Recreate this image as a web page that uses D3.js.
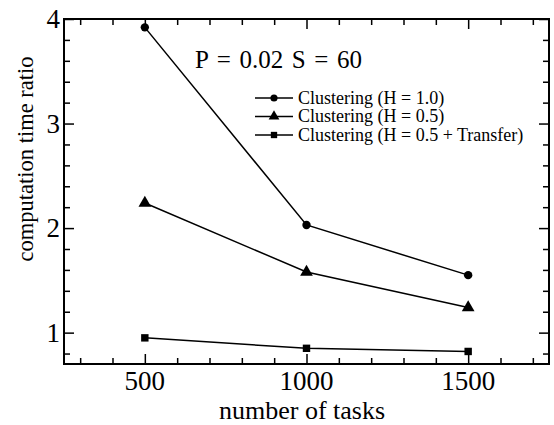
<!DOCTYPE html>
<html>
<head>
<meta charset="utf-8">
<script src="https://cdn.jsdelivr.net/npm/d3@7"></script>
<style>
  html, body { margin: 0; padding: 0; background: #fff; }
</style>
</head>
<body>
<svg id="chart" width="554" height="425"></svg>
<script>
// Number of tasks on the x axis
const tasks = [500, 1000, 1500];

// Computation time ratio per clustering variant
const seriesNames = [
  "Clustering (H = 1.0)",
  "Clustering (H = 0.5)",
  "Clustering (H = 0.5 + Transfer)"
];
const clusteringH10 = [3.92, 2.03, 1.55];
const clusteringH05 = [2.24, 1.58, 1.24];
const clusteringH05Transfer = [0.95, 0.85, 0.82];
const seriesValues = [clusteringH10, clusteringH05, clusteringH05Transfer];
const seriesSymbols = [d3.symbolCircle, d3.symbolTriangle, d3.symbolSquare];

// Tick labels
const xTickValues = [500, 1000, 1500];
const yTickValues = [1, 2, 3, 4];
const xMinorTicks = d3.range(300, 1800, 100).filter(v => v % 500 !== 0);
const yMinorTicks = d3.range(0.8, 4.0, 0.2).filter(v => Math.abs(v - Math.round(v)) > 1e-6);

const annotation = "P = 0.02 S = 60";

const FONT = '"Liberation Serif"';

const svg = d3.select("#chart");
const margin = { left: 64, right: 5, top: 19, bottom: 61 };
const W = 554, H = 425;

const x = d3.scaleLinear().domain([250, 1750]).range([margin.left, W - margin.right]);
const y = d3.scaleLinear().domain([0.7, 4]).range([H - margin.bottom, margin.top]);

const x0 = x.range()[0], x1 = x.range()[1];
const y0 = y.range()[0], y1 = y.range()[1];

const majorLen = 10, minorLen = 6;

// Inward ticks on all four sides
function drawAxis(axis, ticks, len) {
  const g = svg.append("g");
  g.call(axis.tickValues(ticks).tickSize(len).tickFormat(""));
  g.select(".domain").remove();
  g.selectAll(".tick line").attr("stroke", "#000").attr("stroke-width", 1.5);
  return g;
}
// bottom (ticks pointing up)
drawAxis(d3.axisTop(x), xTickValues, majorLen).attr("transform", `translate(0,${y0})`);
drawAxis(d3.axisTop(x), xMinorTicks, minorLen).attr("transform", `translate(0,${y0})`);
// top (ticks pointing down)
drawAxis(d3.axisBottom(x), xTickValues, majorLen).attr("transform", `translate(0,${y1})`);
drawAxis(d3.axisBottom(x), xMinorTicks, minorLen).attr("transform", `translate(0,${y1})`);
// left (ticks pointing right)
drawAxis(d3.axisRight(y), yTickValues, majorLen).attr("transform", `translate(${x0},0)`);
drawAxis(d3.axisRight(y), yMinorTicks, minorLen).attr("transform", `translate(${x0},0)`);
// right (ticks pointing left)
drawAxis(d3.axisLeft(y), yTickValues, majorLen).attr("transform", `translate(${x1},0)`);
drawAxis(d3.axisLeft(y), yMinorTicks, minorLen).attr("transform", `translate(${x1},0)`);

// Frame
svg.append("rect")
  .attr("x", x0).attr("y", y1)
  .attr("width", x1 - x0).attr("height", y0 - y1)
  .attr("fill", "none").attr("stroke", "#000").attr("stroke-width", 2);

// Tick labels
svg.append("g").selectAll("text").data(xTickValues).join("text")
  .attr("x", d => x(d)).attr("y", y0 + 26)
  .attr("text-anchor", "middle")
  .style("font-family", FONT).style("font-size", "27px")
  .text(d => d);
svg.append("g").selectAll("text").data(yTickValues).join("text")
  .attr("x", x0 - 4).attr("y", d => y(d) + 9)
  .attr("text-anchor", "end")
  .style("font-family", FONT).style("font-size", "27px")
  .text(d => d);

// Axis titles
svg.append("text")
  .attr("x", 302).attr("y", 419)
  .attr("text-anchor", "middle")
  .style("font-family", FONT).style("font-size", "26px")
  .text("number of tasks");
svg.append("text")
  .attr("transform", `translate(33,${159}) rotate(-90)`)
  .attr("text-anchor", "middle")
  .style("font-family", FONT).style("font-size", "22.5px")
  .text("computation time ratio");

// Series lines and markers
const line = d3.line().x((d, i) => x(tasks[i])).y(d => y(d));
seriesValues.forEach((vals, s) => {
  svg.append("path")
    .datum(vals)
    .attr("d", line)
    .attr("fill", "none").attr("stroke", "#000").attr("stroke-width", 1.5);
  const sym = d3.symbol().type(seriesSymbols[s]).size(s === 1 ? 70 : 55);
  svg.append("g").selectAll("path").data(vals).join("path")
    .attr("transform", (d, i) => `translate(${x(tasks[i])},${y(d)})`)
    .attr("d", sym)
    .attr("fill", "#000");
});

// Annotation
svg.append("text")
  .attr("x", 195).attr("y", 68)
  .style("font-family", FONT).style("font-size", "25px")
  .style("word-spacing", "2.4px")
  .text(annotation);

// Legend
const legend = svg.append("g");
seriesNames.forEach((name, s) => {
  const cy = 98 + s * 18.5;
  legend.append("line")
    .attr("x1", 255).attr("x2", 293).attr("y1", cy).attr("y2", cy)
    .attr("stroke", "#000").attr("stroke-width", 1.5);
  legend.append("path")
    .attr("transform", `translate(274,${cy})`)
    .attr("d", d3.symbol().type(seriesSymbols[s]).size(s === 1 ? 50 : 40))
    .attr("fill", "#000");
  legend.append("text")
    .attr("x", 298).attr("y", cy + 5.5)
    .style("font-family", FONT).style("font-size", "18px")
    .text(name);
});
</script>
</body>
</html>
